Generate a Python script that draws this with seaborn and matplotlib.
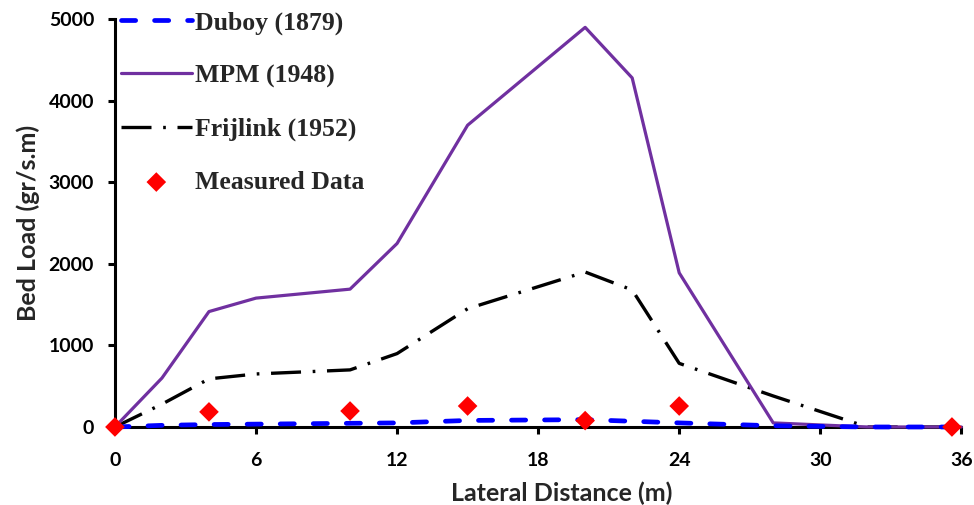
import numpy as np
import pandas as pd
import matplotlib
matplotlib.use("Agg")
import matplotlib.pyplot as plt
import seaborn as sns

# Data
distance = [0, 2, 4, 6, 10, 12, 15, 20, 22, 24, 28, 32, 36]
duboy = [0, 20, 30, 35, 45, 50, 80, 90, 70, 50, 15, 0, 0]
mpm = [0, 600, 1415, 1580, 1690, 2250, 3700, 4900, 4280, 1890, 50, 0, 0]
frijlink = [0, 280, 590, 650, 700, 900, 1450, 1900, 1680, 780, 380, 0, 0]

measured_x = [0, 4, 10, 15, 20, 24, 35.6]
measured_y = [0, 185, 196, 257, 78, 257, 0]

sns.set_theme(style="ticks")
plt.rcParams.update({
    "font.family": ["Lato", "DejaVu Sans"],
    "font.weight": "bold",
    "axes.labelweight": "bold",
    "axes.linewidth": 2.2,
    "xtick.major.width": 2.2,
    "ytick.major.width": 2.2,
    "xtick.major.size": 5,
    "ytick.major.size": 5,
    "xtick.color": "black",
    "ytick.color": "black",
    "axes.edgecolor": "black",
})

fig = plt.figure(figsize=(9.74, 5.05), dpi=100)
ax = fig.add_axes([0.118, 0.1545, 0.869, 0.8075])

df = pd.DataFrame({"x": distance, "duboy": duboy, "mpm": mpm, "frijlink": frijlink})

sns.lineplot(data=df, x="x", y="mpm", ax=ax, color="#7030A0", lw=2.3, sort=False,
             label="MPM (1948)", zorder=3)
sns.lineplot(data=df, x="x", y="frijlink", ax=ax, color="black", lw=2.4, sort=False,
             label="Frijlink (1952)", zorder=2)
ax.lines[-1].set_dashes((9, 3.5, 0.8, 3.5))
sns.lineplot(data=df, x="x", y="duboy", ax=ax, color="#0000FF", lw=3.4, sort=False,
             label="Duboy (1879)", zorder=4)
ax.lines[-1].set_dashes((3, 4))
ax.lines[-1].set_dash_capstyle("round")
sns.scatterplot(x=measured_x, y=measured_y, ax=ax, marker="D", color="#FF0000", s=100,
                edgecolor="none", label="Measured Data", zorder=5, clip_on=False)

ax.set_xlim(0, 36)
ax.set_ylim(0, 5000)
ax.set_xticks(np.arange(0, 37, 6))
ax.set_yticks(np.arange(0, 5001, 1000))
ax.tick_params(labelsize=14)
ax.tick_params(axis="y", pad=10)
ax.tick_params(axis="x", pad=13)
for lab in ax.get_xticklabels() + ax.get_yticklabels():
    lab.set_fontweight("bold")
ax.set_xlabel("Lateral Distance (m)", fontsize=18, fontweight="bold")
ax.set_ylabel("Bed Load (gr/s.m)", fontsize=18, fontweight="bold", labelpad=6)
ax.xaxis.set_label_coords(0.528, -0.135)
sns.despine(ax=ax)
for ln in ax.lines:
    ln.set_clip_on(False)

handles, labels = ax.get_legend_handles_labels()
order = ["Duboy (1879)", "MPM (1948)", "Frijlink (1952)", "Measured Data"]
hmap = dict(zip(labels, handles))
leg = ax.legend([hmap[k] for k in order], order, loc="upper left",
                bbox_to_anchor=(-0.005, 1.045), frameon=False,
                prop={"family": "Liberation Serif", "weight": "bold", "size": 18.5},
                handlelength=2.75, handletextpad=0.15, labelspacing=1.16,
                borderaxespad=0)

fig.savefig("out.png", dpi=100)
